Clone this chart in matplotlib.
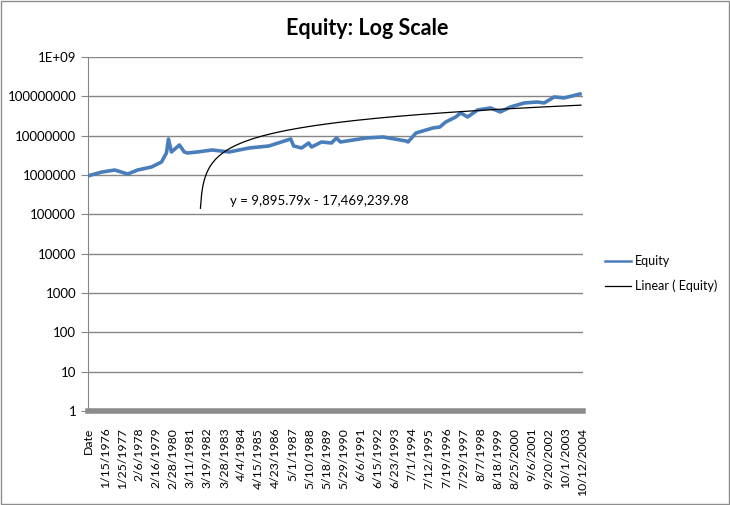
import matplotlib
matplotlib.use("Agg")
import matplotlib.pyplot as plt
import numpy as np
from matplotlib.patches import Rectangle

plt.rcParams['font.family'] = ['Lato', 'DejaVu Sans']

# category axis: one category per trading day, first one is the "Date" header
n_points = 7800
tick_step = 270
tick_labels = ["Date", "1/15/1976", "1/25/1977", "2/6/1978", "2/16/1979", "2/28/1980",
               "3/11/1981", "3/19/1982", "3/28/1983", "4/4/1984", "4/15/1985",
               "4/23/1986", "5/1/1987", "5/10/1988", "5/18/1989", "5/29/1990",
               "6/6/1991", "6/15/1992", "6/23/1993", "7/1/1994", "7/12/1995",
               "7/19/1996", "7/29/1997", "8/7/1998", "8/18/1999", "8/25/2000",
               "9/6/2001", "9/20/2002", "10/1/2003", "10/12/2004"]

# equity (category index, value)
equity_idx = [1, 220, 425, 629, 786, 1006, 1164, 1242, 1274, 1321, 1447, 1525,
              1573, 1730, 1966, 2233, 2548, 2862, 3208, 3255, 3381, 3491, 3538,
              3696, 3853, 3932, 3994, 4403, 4671, 5032, 5064, 5190, 5457, 5567,
              5661, 5819, 5898, 6007, 6165, 6369, 6526, 6684, 6904, 7108, 7218,
              7376, 7533, 7659, 7785]
equity_val = [0.95e6, 1.19e6, 1.34e6, 1.06e6, 1.34e6, 1.6e6, 2.14e6, 3.63e6, 8.24e6,
              3.85e6, 5.8e6, 3.85e6, 3.63e6, 3.85e6, 4.33e6, 3.85e6, 4.86e6, 5.47e6,
              8.24e6, 5.47e6, 4.86e6, 6.52e6, 5.16e6, 6.91e6, 6.52e6, 8.74e6, 6.91e6,
              8.74e6, 9.27e6, 7.33e6, 6.91e6, 11.7e6, 15.7e6, 16.6e6, 22.3e6, 29.9e6,
              37.8e6, 29.9e6, 45.1e6, 50.7e6, 40.1e6, 53.7e6, 67.9e6, 71.9e6, 67.9e6,
              96.6e6, 91.1e6, 102e6, 115e6]

# linear trendline shown in the chart
slope = 9895.79
intercept = -17469239.98


def main():
    fig = plt.figure(figsize=(7.3, 5.05), dpi=100)
    ax = fig.add_axes([0.1205, 0.1861, 0.678, 0.701])

    trend_x = np.linspace(1, n_points, 400)
    trend_y = slope * trend_x + intercept
    trend_y = np.where(trend_y > 0, trend_y, np.nan)

    ax.plot(np.array(equity_idx) - 1, equity_val, color="#4a7ebb", lw=2.6,
            solid_joinstyle="round", zorder=3)
    ax.plot(trend_x - 1, trend_y, color="black", lw=0.9, zorder=4)

    ax.set_yscale("log")
    ax.set_ylim(1, 1e9)
    ax.set_xlim(-0.5, n_points - 0.5)
    yt = [10 ** k for k in range(10)]
    ax.set_yticks(yt)
    ax.set_yticklabels([str(v) for v in yt[:-1]] + ["1E+09"])
    ax.yaxis.set_minor_locator(matplotlib.ticker.NullLocator())
    ax.grid(axis="y", color="#868686", lw=1)
    ax.set_axisbelow(True)

    ax.set_xticks(np.arange(len(tick_labels)) * tick_step)
    ax.set_xticklabels(tick_labels, rotation=90, va="top", ha="center")
    ax.tick_params(axis="x", length=0, pad=12, labelsize=8.8)
    ax.tick_params(axis="y", length=5, color="#868686", labelsize=9.5, direction="out")

    for s in ["top", "right"]:
        ax.spines[s].set_visible(False)
    ax.spines["left"].set_color("#868686")
    ax.spines["bottom"].set_color("#8c8c8c")
    ax.spines["bottom"].set_linewidth(4)

    ax.text(0.287, 0.593, "y = 9,895.79x - 17,469,239.98", transform=ax.transAxes,
            fontsize=9.5, va="center", ha="left")

    fig.text(0.503, 0.944, "Equity: Log Scale", fontsize=15.5, fontweight="bold",
             ha="center", va="center")

    # legend handles drawn thinner, like the reference
    h1, = plt.plot([], [], color="#4a7ebb", lw=1.8)
    h2, = plt.plot([], [], color="black", lw=0.9)
    fig.legend([h1, h2], ["Equity", "Linear ( Equity)"], loc="center left",
               bbox_to_anchor=(0.829, 0.458), frameon=False,
               fontsize=9, handlelength=2.1, labelspacing=1.0, handletextpad=0.3,
               borderaxespad=0, borderpad=0)

    fig.patches.append(Rectangle((0.001, 0.001), 0.997, 0.997, transform=fig.transFigure,
                                 fill=False, edgecolor="#8c8c8c", lw=1))
    fig.savefig("out.png", dpi=100)


if __name__ == "__main__":
    main()
